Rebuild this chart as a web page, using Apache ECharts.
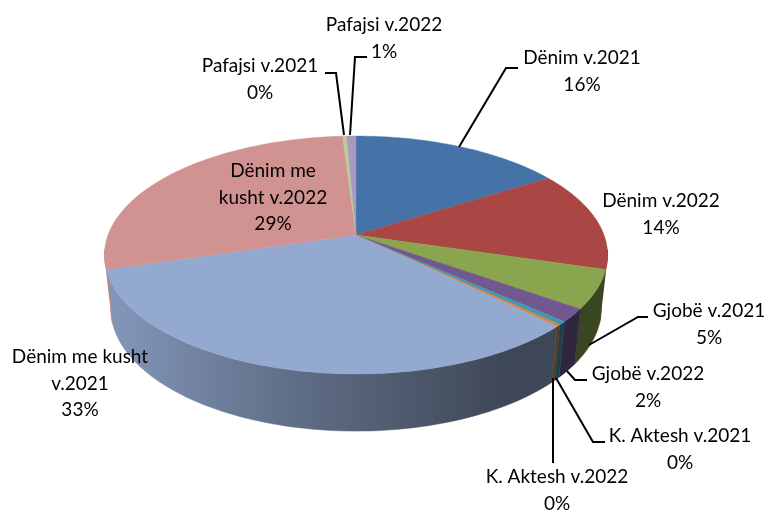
<!DOCTYPE html>
<html>
<head>
<meta charset="utf-8">
<style>html,body{margin:0;padding:0;background:#fff}#c{width:768px;height:512px}</style>
<script src="https://cdn.jsdelivr.net/npm/echarts@6/dist/echarts.min.js"></script>
</head>
<body>
<div id="c"></div>
<script>
// --- data ---
const categories = ['Dënim v.2021','Dënim v.2022','Gjobë v.2021','Gjobë v.2022','K. Aktesh v.2021','K. Aktesh v.2022','Dënim me kusht v.2021','Dënim me kusht v.2022','Pafajsi v.2021','Pafajsi v.2022'];
const shares = [16, 13.6, 5.2, 1.8, 0.45, 0.25, 33.1, 28.6, 0.3, 0.7];
const colors = ['#4572A7','#AA4643','#89A54E','#71588F','#4198AF','#DB843D','#93A9CF','#D19392','#B9CD96','#A99BBD'];

// --- label layout ---
const labelLines = [['Dënim v.2021'],['Dënim v.2022'],['Gjobë v.2021'],['Gjobë v.2022'],['K. Aktesh v.2021'],['K. Aktesh v.2022'],['Dënim me kusht','v.2021'],['Dënim me','kusht v.2022'],['Pafajsi v.2021'],['Pafajsi v.2022']];
const labelPos = [[582,58],[661,201],[709,311],[648,374],[680,436],[557,477],[80,357],[273,171],[260,66],[384,25]];
const leaders = [
  [[459,147],[506,68],[518,68]], null,
  [[589,345],[638,317],[648,317]],
  [[567,371],[575,380],[587,380]],
  [[556,378],[593,442],[605,442]],
  [[553,378],[553,463]],
  null, null,
  [[344,135],[336,73],[325,73]],
  [[350,135],[355,57],[367,57]]
];
const LINE_H = 26.5;

// --- perspective pie geometry ---
const P = {cx:356, cy:235, A:115.6, B:248, k:0.168, wallH:53, wallSx:0.975, wallSy:1.03};
function project(deg, wall){
  const t = deg*Math.PI/180, u = Math.sin(t), v = -Math.cos(t), w = 1/(1-P.k*v);
  const x = P.B*u*w, y = P.A*v*w;
  return wall ? [P.cx+x*P.wallSx, P.cy+P.wallH+y*P.wallSy] : [P.cx+x, P.cy+y];
}
const total = shares.reduce((a,b)=>a+b,0);
const starts = []; shares.reduce((acc,s,i)=>{starts[i]=acc; return acc+s;},0);
const startDeg = i => starts[i]/total*360;
const endDeg = i => (starts[i]+shares[i])/total*360;
function arc(a,b,wall){ const n=Math.max(2,Math.ceil(Math.abs(b-a)/1.5)+1), p=[];
  for(let j=0;j<n;j++) p.push(project(a+(b-a)*j/(n-1),wall)); return p; }
function shade(hex,f){ const n=parseInt(hex.slice(1),16);
  return 'rgb('+[(n>>16)&255,(n>>8)&255,n&255].map(c=>Math.round(c*f)).join(',')+')'; }
function wallFill(hex){ return new echarts.graphic.LinearGradient(104,0,608,0,[
  {offset:0,color:shade(hex,0.9)},{offset:0.37,color:shade(hex,0.65)},
  {offset:0.8,color:shade(hex,0.42)},{offset:1,color:shade(hex,0.42)}],true); }
const VIS_A = 97, VIS_B = 263;

const data = shares.map((s,i)=>[s,i]);
const option = {
  animation:false,
  series:[
    {type:'custom',name:'walls',coordinateSystem:'none',silent:true,data,z:1,
     renderItem(p){ const i=p.dataIndex, a=Math.max(startDeg(i),VIS_A), b=Math.min(endDeg(i),VIS_B);
       if(b<=a) return {type:'group',children:[]};
       const pts=arc(a,b,false).concat(arc(b,a,true)), fill=wallFill(colors[i]);
       return {type:'polygon',shape:{points:pts},style:{fill,stroke:fill,lineWidth:0.5}}; }},
    {type:'custom',name:'tops',coordinateSystem:'none',silent:true,data,z:2,
     renderItem(p){ const i=p.dataIndex;
       const pts=[[P.cx,P.cy]].concat(arc(startDeg(i),endDeg(i),false));
       return {type:'polygon',shape:{points:pts},style:{fill:colors[i],stroke:colors[i],lineWidth:0.4}}; }},
    {type:'custom',name:'labels',coordinateSystem:'none',silent:true,data,z:3,
     renderItem(p){ const i=p.dataIndex, ch=[], lines=labelLines[i].concat([Math.round(shares[i]/total*100)+'%']);
       if(leaders[i]) ch.push({type:'polyline',shape:{points:leaders[i]},style:{fill:null,stroke:'#000',lineWidth:2}});
       lines.forEach((t,j)=>ch.push({type:'text',style:{text:t,x:labelPos[i][0],y:labelPos[i][1]+j*LINE_H,
         align:'center',verticalAlign:'middle',fill:'#000',font:'19px Lato'}}));
       return {type:'group',children:ch}; }}
  ]
};
echarts.init(document.getElementById('c'),null,{renderer:'canvas'}).setOption(option);
</script>
</body>
</html>
